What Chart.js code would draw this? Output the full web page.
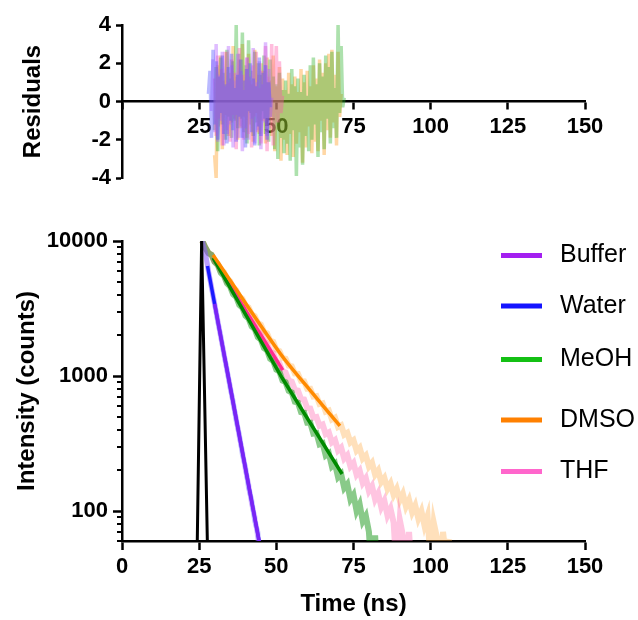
<!DOCTYPE html>
<html>
<head>
<meta charset="utf-8">
<script src="https://cdn.jsdelivr.net/npm/chart.js@4.4.1/dist/chart.umd.min.js"></script>
<style>
  html, body { margin: 0; padding: 0; background: #fff; }
  #wrap { position: relative; width: 638px; height: 620px; }
  canvas { position: absolute; left: 0; }
  #resChart { top: 0; }
  #decayChart { top: 200px; }
</style>
</head>
<body>
<div id="wrap">
  <canvas id="resChart" width="638" height="200"></canvas>
  <canvas id="decayChart" width="638" height="420"></canvas>
</div>
<script>
// ---- axis ticks ----
const timeTicks = [0, 25, 50, 75, 100, 125, 150];
const residualTicks = [-4, -2, 0, 2, 4];
const countTicks = [100, 1000, 10000];
const minorCountTicks = [60, 70, 80, 90, 200, 300, 400, 500, 600, 700, 800, 900,
  2000, 3000, 4000, 5000, 6000, 7000, 8000, 9000];

const legendNames = ['Buffer', 'Water', 'MeOH', 'DMSO', 'THF'];
const legendColors = ['#a31ff0', '#1414ff', '#14c014', '#ff8000', '#ff66cc'];

// ---- residuals (0.5 ns channels) ----
const resChannel = 0.5;
const waterResStart = 28;
const waterRes = [0.4, 1.6, -1.9, 2.7, -1.2, 2.1, -2.0, 1.3, -0.6, 2.4, -1.7, 0.9, -2.2, 1.8, -1.0, 2.5,
  -1.5, 0.7, -2.1, 1.4, -0.8, 2.2, -1.9, 1.1, -2.4, 1.7, -0.5, 2.0, -1.6, 1.2, -2.3, 0.8, -1.3, 2.3,
  -1.8, 1.5, -0.9, 1.9, -2.0, 1.0, -0.3];
const bufferResStart = 29;
const bufferRes = [-0.5, 2.2, -1.6, 3.0, -2.1, 1.4, -1.0, 2.6, -2.3, 0.8, -1.7, 2.9, -1.2, 1.9, -2.4, 1.1,
  -0.7, 2.5, -1.9, 1.6, -2.6, 0.6, -1.4, 2.3, -2.0, 1.3, -0.9, 2.8, -2.2, 1.0, -1.5, 2.1, -2.5, 0.9,
  -1.1, 3.1, -1.8, 1.7, -0.8, 0.2];
const thfResStart = 30;
const thfRes = [1.2, -1.8, 2.4, -0.9, 1.7, -2.3, 0.6, 2.6, -1.5, 1.0, -2.1, 2.2, -0.7, 1.5, -2.5, 0.9,
  2.8, -1.3, 1.4, -2.0, 0.5, 2.3, -1.7, 1.1, -2.4, 1.9, -0.8, 2.6, -1.6, 0.7, -2.2, 1.6, -1.0, 2.9,
  -2.6, 1.3, -1.4, 3.0, -2.3, 0.8, 2.9, -1.1, 2.1, -0.6, 0.3];
const meohResStart = 30;
const meohRes = [-1.5, 1.8, -2.6, 0.9, 2.3, -1.2, 1.5, -2.0, 2.7, -0.8, 1.2, -1.9, 2.1, -1.0, 4.0, -1.4,
  2.5, -0.9, 3.6, -1.6, 1.9, -2.2, 3.2, -0.6, 1.6, -1.8, 2.6, -1.1, 2.0, -2.3, 1.4, -0.5,
  2.4, -1.7, 1.0, -2.1, 2.2, -0.8, 1.3, -2.5, 0.9, -3.0, 1.5, -1.9, 0.6, -2.7, 1.1, -2.2,
  0.4, -3.1, 1.7, -1.5, 0.8, -3.9, 1.2, -2.4, 0.5, -3.3, 1.4, -1.8, 0.3, -2.6, 1.9, -2.0,
  2.3, -1.2, 0.9, -2.9, 2.0, -1.6, 1.3, -2.5, 2.4, -0.9, 1.8, -2.2, 2.6, -1.4, 0.7, -1.9,
  4.0, -0.6, 2.9, -0.3, 0.2];
const dmsoResStart = 30;
const dmsoRes = [-2.8, -4.0, 1.9, -1.3, 2.4, -2.5, 1.1, -0.7, 2.6, -1.8, 1.5, -1.1, 2.9, -0.9, 1.3, -2.0,
  2.2, -1.4, 3.0, -0.8, 1.7, -1.9, 2.5, -1.2, 0.9, -2.1, 2.7, -0.6, 1.4, -1.7, 2.0, -1.0,
  1.6, -2.2, 2.3, -0.9, 1.1, -1.8, 2.4, -2.6, 0.8, -1.5, 1.8, -3.1, 1.2, -2.0, 0.6, -2.8,
  1.5, -1.7, 0.9, -2.9, 1.3, -2.2, 0.5, -1.6, 1.7, -3.2, 1.0, -2.4, 1.6, -1.3, 0.8, -2.7,
  1.9, -2.1, 1.2, -2.6, 2.2, -1.0, 1.5, -2.8, 2.0, -1.5, 2.5, -1.9, 2.7, -1.1, 1.4, -2.3,
  2.6, -0.8, 0.4];

// ---- decay data (1 ns channels, counts) ----
const decayChannel = 1;
const decayStart = 26;
const waterCounts = [10000, 8200, 6100, 4450, 3480, 2530, 1990, 1440, 1130, 820, 650, 465, 370, 262,
  212, 148, 121, 84, 70, 40];
const bufferCounts = [10000, 8100, 5900, 4600, 3370, 2620, 1910, 1500, 1090, 860, 620, 490, 352, 280,
  200, 160, 112, 92, 63, 35];
const meohCounts = [10000, 8950, 8150, 7900, 6980, 6640, 5820, 5530, 4860, 4620, 4040, 3850, 3360,
  3210, 2800, 2670, 2330, 2230, 1940, 1860, 1610, 1550, 1340, 1290, 1115, 1080, 925, 900, 775, 755,
  645, 635, 540, 535, 450, 450, 375, 378, 312, 318, 258, 268, 214, 224, 178, 188, 148, 158, 122, 132,
  100, 112, 84, 92, 70, 30, 66, 25, 55, 20];
const dmsoCounts = [10000, 8950, 8150, 7900, 7050, 6820, 6090, 5880, 5230, 5060, 4520, 4330, 3880,
  3740, 3330, 3230, 2870, 2780, 2470, 2400, 2120, 2070, 1830, 1790, 1570, 1530, 1360, 1340, 1195,
  1180, 1045, 1040, 920, 915, 805, 805, 705, 710, 620, 628, 545, 555, 478, 492, 420, 432, 368, 380,
  322, 335, 280, 295, 245, 258, 214, 228, 186, 200, 164, 176, 146, 160, 132, 146, 120, 134, 108, 121,
  98, 110, 88, 100, 78, 92, 40, 82, 64, 30, 70, 45, 62];
const thfCounts = [10000, 8950, 8150, 7900, 7020, 6720, 5930, 5680, 5010, 4800, 4220, 4060, 3570,
  3420, 3010, 2890, 2540, 2440, 2150, 2065, 1810, 1745, 1525, 1475, 1285, 1245, 1085, 1060, 925, 910,
  790, 780, 675, 670, 578, 575, 492, 498, 428, 437, 372, 383, 323, 336, 281, 295, 245, 259, 214, 227,
  186, 199, 162, 175, 141, 153, 122, 135, 107, 119, 93, 104, 82, 35, 86, 66, 28, 70, 30];

// ---- instrument response and fits ----
const irfTime = [24.2, 25.8, 27.9];
const irfCounts = [30, 10000, 30];
const waterFitTime = [27.7, 44.6];
const waterFitCounts = [6530, 57];
const bufferFitTime = [30.0, 44.6];
const bufferFitCounts = [3420, 57];
const meohFitTime = [29.5, 51.9, 71.3];
const meohFitCounts = [7490, 966, 188];
const dmsoFitTime = [29.5, 51.2, 60.9, 70.6];
const dmsoFitCounts = [7870, 1472, 787, 427];
const thfFitTime = [29.5, 52.1];
const thfFitCounts = [7480, 1107];

function channels(start, step, values) {
  return values.map((v, i) => ({ x: start + i * step, y: v }));
}
function pairs(times, values) {
  return times.map((t, i) => ({ x: t, y: values[i] }));
}
function line(data, color, width, tension) {
  return { data: data, borderColor: color, borderWidth: width, pointRadius: 0, fill: false,
    tension: tension || 0 };
}

Chart.defaults.font.family = '"Liberation Sans", Arial, Helvetica, sans-serif';
Chart.defaults.color = '#000';

const tickFont = { size: 22, weight: 'bold' };
const titleFont = { size: 24, weight: 'bold' };
const axisGrid = { drawOnChartArea: false, tickLength: 8, tickWidth: 2.5, tickColor: '#000' };
const axisBorder = { color: '#000', width: 2.5 };

// residuals chart
new Chart(document.getElementById('resChart'), {
  type: 'line',
  data: {
    datasets: [
      line(channels(waterResStart, resChannel, waterRes), 'rgba(80,80,255,0.4)', 3.5),
      line(channels(bufferResStart, resChannel, bufferRes), 'rgba(175,90,255,0.4)', 3.5),
      line(channels(thfResStart, resChannel, thfRes), 'rgba(255,90,170,0.4)', 3.5),
      line(channels(meohResStart, resChannel, meohRes), 'rgba(40,175,40,0.38)', 3.5),
      line(channels(dmsoResStart, resChannel, dmsoRes), 'rgba(255,160,40,0.42)', 3.5)
    ]
  },
  options: {
    responsive: false,
    animation: false,
    layout: { padding: { top: 25, right: 53, bottom: 22, left: 0 } },
    plugins: { legend: { display: false }, tooltip: { enabled: false } },
    scales: {
      x: {
        type: 'linear', min: 0, max: 150, position: { y: 0 },
        afterBuildTicks: s => { s.ticks = timeTicks.map(v => ({ value: v })); },
        ticks: { font: tickFont, padding: 5, maxRotation: 0, callback: v => (v === 0 ? '' : v) },
        grid: { ...axisGrid, tickLength: 7 },
        border: axisBorder
      },
      y: {
        min: -4, max: 4,
        afterBuildTicks: s => { s.ticks = residualTicks.map(v => ({ value: v })); },
        afterFit: s => { s.width = 122; },
        title: { display: true, text: 'Residuals', font: titleFont, padding: { top: 19 } },
        ticks: { font: tickFont, padding: 5 },
        grid: { ...axisGrid, tickLength: 6 },
        border: axisBorder
      }
    }
  }
});

const minorTickPlugin = {
  id: 'minorTicks',
  afterDraw(chart) {
    const ys = chart.scales.y;
    const x0 = chart.chartArea.left;
    const ctx = chart.ctx;
    ctx.save();
    ctx.strokeStyle = '#000';
    ctx.lineWidth = 2;
    minorCountTicks.forEach(v => {
      const py = Math.round(ys.getPixelForValue(v));
      ctx.beginPath();
      ctx.moveTo(x0 - 5, py);
      ctx.lineTo(x0, py);
      ctx.stroke();
    });
    ctx.restore();
  }
};

const sideLegend = {
  id: 'sideLegend',
  afterDraw(chart) {
    const rows = [55.5, 106, 159.5, 220, 271.5];
    const ctx = chart.ctx;
    ctx.save();
    ctx.font = '25px "Liberation Sans", Arial, sans-serif';
    ctx.textBaseline = 'middle';
    ctx.lineWidth = 5;
    legendNames.forEach((name, i) => {
      ctx.strokeStyle = legendColors[i];
      ctx.beginPath();
      ctx.moveTo(501, rows[i]);
      ctx.lineTo(542, rows[i]);
      ctx.stroke();
      ctx.fillStyle = '#000';
      ctx.fillText(name, 560, rows[i]);
    });
    ctx.restore();
  }
};

// decay chart (dataset 0 is drawn on top)
new Chart(document.getElementById('decayChart'), {
  type: 'line',
  data: {
    datasets: [
      line(pairs(irfTime, irfCounts), '#000', 3),
      line(pairs(bufferFitTime, bufferFitCounts), 'rgba(160,40,240,0.72)', 3.5),
      line(pairs(waterFitTime, waterFitCounts), '#1a1aff', 3.5),
      line(pairs(dmsoFitTime, dmsoFitCounts), '#ff8a00', 3.5, 0.35),
      line(pairs(meohFitTime, meohFitCounts), '#008a00', 3.5),
      line(pairs(thfFitTime, thfFitCounts), '#ff2d90', 3.5),
      line(channels(decayStart, decayChannel, bufferCounts), 'rgba(170,90,255,0.35)', 5),
      line(channels(decayStart, decayChannel, waterCounts), 'rgba(90,90,255,0.35)', 5),
      line(channels(decayStart, decayChannel, meohCounts), 'rgba(20,150,20,0.5)', 6),
      line(channels(decayStart, decayChannel, thfCounts), 'rgba(255,110,180,0.4)', 6),
      line(channels(decayStart, decayChannel, dmsoCounts), 'rgba(255,165,60,0.35)', 6)
    ]
  },
  options: {
    responsive: false,
    animation: false,
    layout: { padding: { top: 41, right: 53, bottom: 0, left: 0 } },
    plugins: { legend: { display: false }, tooltip: { enabled: false } },
    scales: {
      x: {
        type: 'linear', min: 0, max: 150,
        afterBuildTicks: s => { s.ticks = timeTicks.map(v => ({ value: v })); },
        afterFit: s => { s.height = 79; },
        title: { display: true, text: 'Time (ns)', font: titleFont, padding: { bottom: 1 } },
        ticks: { font: tickFont, padding: 4, maxRotation: 0 },
        grid: { ...axisGrid, tickLength: 9 },
        border: axisBorder
      },
      y: {
        type: 'logarithmic', min: 60, max: 10000,
        afterBuildTicks: s => { s.ticks = countTicks.map(v => ({ value: v })); },
        afterFit: s => { s.width = 122; },
        title: { display: true, text: 'Intensity (counts)', font: titleFont, padding: { top: 13 } },
        ticks: { font: tickFont, padding: 5, callback: v => String(v) },
        grid: { ...axisGrid, tickLength: 9 },
        border: axisBorder
      }
    }
  },
  plugins: [minorTickPlugin, sideLegend]
});
</script>
</body>
</html>
